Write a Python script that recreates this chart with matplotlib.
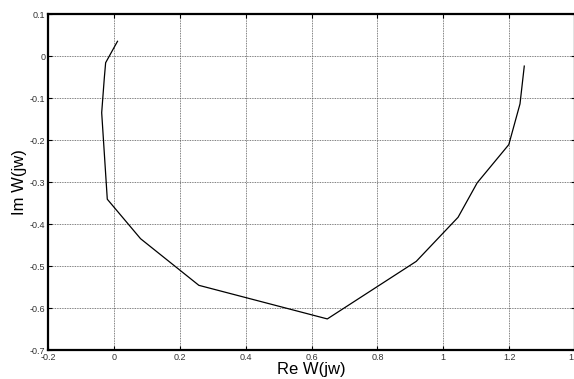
import numpy as np
import matplotlib
matplotlib.use('Agg')
import matplotlib.pyplot as plt

plt.rcParams['font.family'] = ['Liberation Sans', 'DejaVu Sans']

# Nyquist curve points
re_w = [0.011, -0.025, -0.029, -0.037, -0.020, 0.081, 0.258, 0.648, 0.918, 1.045, 1.103, 1.199, 1.233, 1.246]
im_w = [0.035, -0.016, -0.052, -0.135, -0.341, -0.435, -0.546, -0.626, -0.489, -0.384, -0.302, -0.211, -0.114, -0.024]

xticks = [-0.2, 0, 0.2, 0.4, 0.6, 0.8, 1, 1.2, 1.4]
xlabels = ['-0.2', '0', '0.2', '0.4', '0.6', '0.8', '1', '1.2', '1.4']
yticks = [0.1, 0, -0.1, -0.2, -0.3, -0.4, -0.5, -0.6, -0.7]
ylabels = ['0.1', '0', '-0.1', '-0.2', '-0.3', '-0.4', '-0.5', '-0.6', '-0.7']

fig = plt.figure(figsize=(5.74, 3.79), dpi=100)
ax = fig.add_axes([48/574, 1-350/379, 527/574, 336/379])

ax.plot(re_w, im_w, color='k', lw=0.9)

ax.set_xlim(-0.2, 1.4)
ax.set_ylim(-0.7, 0.1)
ax.set_xticks(xticks)
ax.set_xticklabels(xlabels)
ax.set_yticks(yticks)
ax.set_yticklabels(ylabels)
ax.tick_params(direction='in', length=3, width=0.8, labelsize=6.5, labelcolor='#333333',
               top=True, right=True, pad=2)
ax.grid(True, color='#555555', linestyle=(0, (1, 1)), lw=0.6)
for s in ax.spines.values():
    s.set_linewidth(1.6)

ax.set_xlabel('Re W(jw)', fontsize=12, labelpad=0)
ax.set_ylabel('Im W(jw)', fontsize=12, labelpad=2)

fig.savefig('out.png', dpi=100)
